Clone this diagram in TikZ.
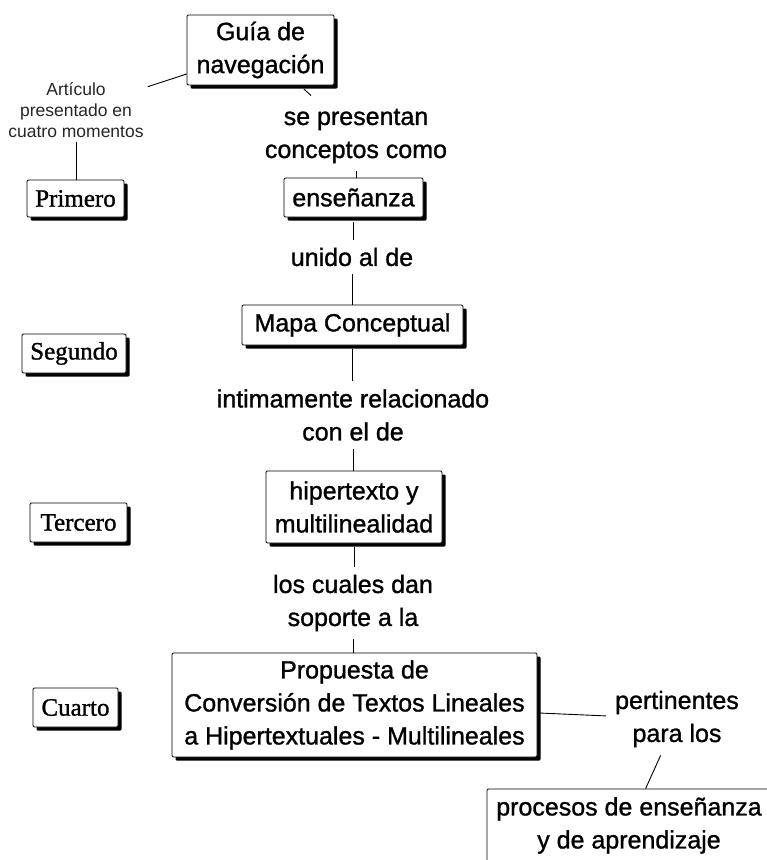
\documentclass[tikz,border=0pt]{standalone}
\usepackage{fontspec}
\setmainfont{Liberation Sans}
\newfontfamily\heavysans{Liberation Sans}[FakeBold=1.1]
\newfontfamily\momentfont{Liberation Serif}[FakeBold=1.2]
\usetikzlibrary{shadows,calc}

\tikzset{
  concept/.style={draw=black, line width=0.8pt, rounded corners=1.2pt, fill=white,
    inner sep=0pt, align=center, font=\heavysans\fontsize{25}{33}\selectfont,
    drop shadow={shadow xshift=3.5pt, shadow yshift=-3.5pt, fill=black, opacity=1}},
  moment/.style={concept, font=\momentfont\fontsize{25}{30}\selectfont},
  linklabel/.style={align=center, inner xsep=4pt, inner ysep=8pt, font=\heavysans\fontsize{25}{33}\selectfont},
  smalllabel/.style={align=center, inner xsep=4pt, inner ysep=4pt, text=black!85, font=\fontsize{17.5}{21}\selectfont},
  conn/.style={draw=black, line width=0.9pt},
}

\begin{document}
\begin{tikzpicture}[x=1pt, y=-1pt]
\path[use as bounding box, clip] (0,0) rectangle (767,860);
\fill[white] (0,0) rectangle (767,860);

% concepts
\node[concept, minimum width=147pt, minimum height=70pt] (guia) at (260.5,50) {Guía de\\navegación};
\node[linklabel] (l1) at (356,136) {se presentan\\conceptos como};
\node[concept, minimum width=139pt, minimum height=39pt] (ens) at (353.5,197.5) {enseñanza};
\node[linklabel] (l2) at (352,257) {unido al de};
\node[concept, minimum width=221pt, minimum height=40pt] (mapa) at (352.5,325) {Mapa Conceptual};
\node[linklabel] (l3) at (353,415) {intimamente relacionado\\con el de};
\node[concept, minimum width=176pt, minimum height=72pt] (hiper) at (354,507) {hipertexto y\\multilinealidad};
\node[linklabel] (l4) at (353,603) {los cuales dan\\soporte a la};
\node[concept, minimum width=365pt, minimum height=104pt] (prop) at (354.5,705) {Propuesta de\\Conversión de Textos Lineales\\a Hipertextuales - Multilineales};
\node[linklabel, inner xsep=9pt] (l5) at (677,719) {pertinentes\\para los};
\node[concept, minimum width=284pt, minimum height=73pt] (proc) at (629,825.5) {procesos de enseñanza\\y de aprendizaje};

% left column
\node[smalllabel] (art) at (76,110) {Artículo\\presentado en\\cuatro momentos};
\node[moment, minimum width=97pt, minimum height=37pt] (m1) at (75.5,198.5) {Primero};
\node[moment, minimum width=104pt, minimum height=39pt] (m2) at (74,353.5) {Segundo};
\node[moment, minimum width=97pt, minimum height=39pt] (m3) at (78.5,522.5) {Tercero};
\node[moment, minimum width=85pt, minimum height=39pt] (m4) at (75.5,707.5) {Cuarto};

% connectors
\draw[conn] (guia) -- (art);
\draw[conn] (art) -- (art |- m1.north);
\draw[conn] ($(guia)!0.455!(l1)$) -- ($(guia)!0.53!(l1)$);
\draw[conn] (l1) -- (l1 |- ens.north);
\draw[conn, shorten <=5pt] (ens) -- (ens |- l2.north);
\draw[conn] (l2) -- (l2 |- mapa.north);
\draw[conn, shorten <=3.5pt] (mapa) -- (mapa |- l3.north);
\draw[conn] (l3) -- (l3 |- hiper.north);
\draw[conn, shorten <=4pt] (hiper) -- (hiper |- l4.north);
\draw[conn] (l4) -- (l4 |- prop.north);
\draw[conn] (prop) -- (l5);
\draw[conn] (l5) -- (proc);
\end{tikzpicture}
\end{document}
